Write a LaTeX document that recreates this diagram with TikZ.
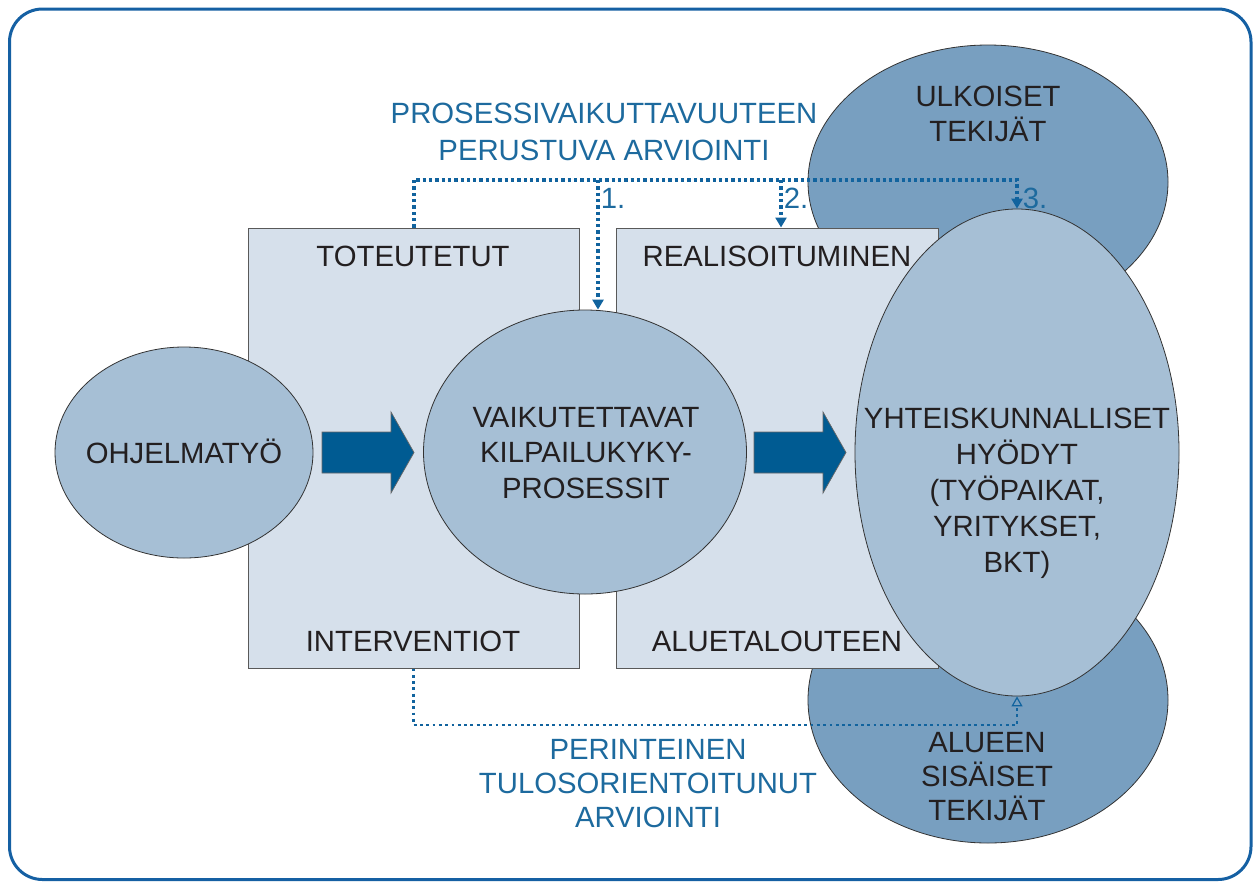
\documentclass[tikz,border=0pt]{standalone}
\usepackage{fontspec}
\setmainfont{Liberation Sans}
\usetikzlibrary{shapes.geometric,arrows.meta}
\definecolor{boxfill}{HTML}{D6E0EB}
\definecolor{lightfill}{HTML}{A6BFD5}
\definecolor{darkfill}{HTML}{789FC0}
\definecolor{arrowfill}{HTML}{005B92}
\definecolor{dotcol}{HTML}{11639E}
\definecolor{bluetext}{HTML}{1D6A9E}
\definecolor{framecol}{HTML}{1560A3}
\definecolor{textcol}{HTML}{231F20}
\begin{document}
\begin{tikzpicture}[x=1pt,y=-1pt,
  every node/.style={text=textcol, font=\fontsize{29.3}{36}\selectfont, inner sep=0pt},
  frame/.style={draw=framecol, line width=3pt, rounded corners=33pt},
  panel/.style={rectangle, fill=boxfill, draw=black!65, line width=1pt},
  lightell/.style={ellipse, fill=lightfill, draw=black!80, line width=0.8pt},
  darkell/.style={ellipse, fill=darkfill, draw=black!80, line width=0.8pt},
  bluelabel/.style={text=bluetext, align=center},
  blacklabel/.style={align=center},
  dotline/.style={draw=dotcol, line width=4pt, dash pattern=on 3.3pt off 3pt, -{Triangle[width=11pt,length=10pt]}},
  thinline/.style={draw=dotcol, line width=2.6pt, dash pattern=on 2.8pt off 3.5pt, -{Triangle[open,width=11pt,length=10pt,line width=1.2pt]}},
  bigarr/.pic={\filldraw[fill=arrowfill, draw=black!60, line width=0.7pt] (0,-20.5) -- (69,-20.5) -- (69,-40.5) -- (92,0) -- (69,40.5) -- (69,20.5) -- (0,20.5) -- cycle;}
]
\useasboundingbox (0,0) rectangle (1255,884);
\draw[frame] (9.5,9) rectangle (1251,879.5);

% dark ellipses (behind)
\node[darkell, minimum width=360pt, minimum height=274pt] (ulk) at (988,182) {};
\node[darkell, minimum width=360pt, minimum height=286pt] (alu) at (988,700) {};

% panels
\node[panel, minimum width=331pt, minimum height=440pt] (lbox) at (413.5,448) {};
\node[panel, minimum width=322pt, minimum height=440pt] (rbox) at (777,448) {};

% light ellipses
\node[lightell, minimum width=258pt, minimum height=211pt] (ohj) at (184,452.5) {};
\node[lightell, minimum width=323pt, minimum height=284pt] (mid) at (585,452) {};
\node[lightell, minimum width=324pt, minimum height=487pt] (big) at (1017,452.5) {};

% big arrows
\pic at (322,452.5) {bigarr};
\pic at (754,452.5) {bigarr};

% dotted connectors
\coordinate (a1) at (598,180);
\coordinate (a2) at (781,180);
\coordinate (t3) at (big.north |- a1);
\draw[dotline] (lbox.north) |- (t3) -- (big.north);
\draw[dotline] (a1) -- (a1 |- mid.north);
\draw[dotline] (a2) -- (a2 |- rbox.north);
\coordinate (b0) at (413.5,725);
\draw[thinline] (lbox.south) -- (b0) -| (big.south);

% labels
\node (ohjt) at (184,451) {OHJELMATYÖ};
\node[blacklabel, font=\fontsize{29.3}{35.5}\selectfont] (midt) at (586,453) {VAIKUTETTAVAT\\KILPAILUKYKY-\\PROSESSIT};
\node[bluelabel, font=\fontsize{29.3}{37}\selectfont] (proc) at (604,131.5) {PROSESSIVAIKUTTAVUUTEEN\\PERUSTUVA ARVIOINTI};
\node[bluelabel, font=\fontsize{29.3}{34}\selectfont] (trad) at (648,784) {PERINTEINEN\\TULOSORIENTOITUNUT\\ARVIOINTI};
\node[text=bluetext] (n1) at (613,198) {1.};
\node[text=bluetext] (n2) at (796,198) {2.};
\node[text=bluetext] (n3) at (1035,198) {3.};
\node (tot) at (413,256) {TOTEUTETUT};
\node (int) at (413,641) {INTERVENTIOT};
\node (rea) at (777,256) {REALISOITUMINEN};
\node (alt) at (777,641) {ALUETALOUTEEN};
\node[blacklabel, font=\fontsize{29.3}{35}\selectfont] (ulkt) at (988,113.5) {ULKOISET\\TEKIJÄT};
\node[blacklabel, font=\fontsize{29.3}{34}\selectfont] (alut) at (987,777) {ALUEEN\\SISÄISET\\TEKIJÄT};
\node[blacklabel, font=\fontsize{29.3}{36}\selectfont] (bigt) at (1017,493) {YHTEISKUNNALLISET\\HYÖDYT\\(TYÖPAIKAT,\\YRITYKSET,\\BKT)};
\end{tikzpicture}
\end{document}
